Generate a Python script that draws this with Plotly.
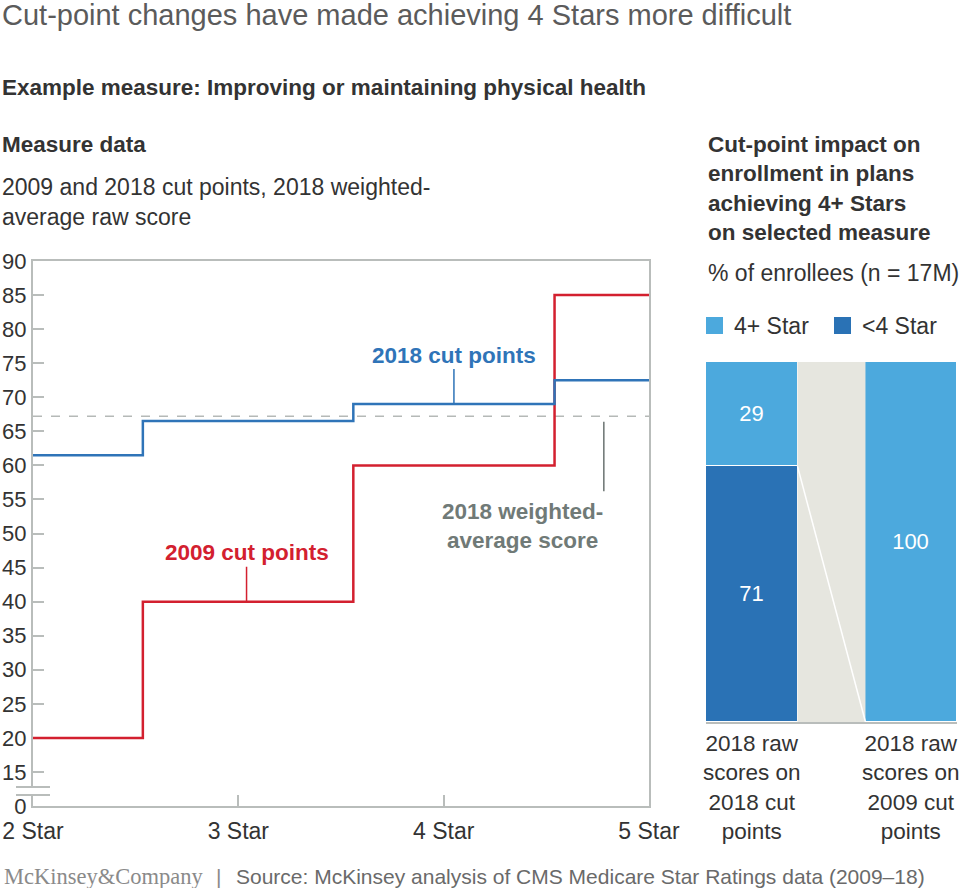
import plotly.graph_objects as go

# ---------------- data ----------------
star_labels = ["2 Star", "3 Star", "4 Star", "5 Star"]
star_vals = [2, 3, 4, 5]
step_x = [2, 2.535, 3.56, 4.54, 5]            # step boundaries (star scale)
cut2018 = [61.5, 66.5, 69, 72.5]              # 2018 cut points
cut2009 = [20, 40, 60, 85]                    # 2009 cut points
weighted_avg_2018 = 67.2                      # 2018 weighted-average score
y_ticks = [10, 15, 20, 25, 30, 35, 40, 45, 50, 55, 60, 65, 70, 75, 80, 85, 90]
y_tick_text = ["0"] + [str(v) for v in y_ticks[1:]]

bar_cats = ["2018 raw<br>scores on<br>2018 cut<br>points", "2018 raw<br>scores on<br>2009 cut<br>points"]
below4 = [71, 0]     # <4 Star
above4 = [29, 100]   # 4+ Star

FONT = "Liberation Sans, Arial, Helvetica, sans-serif"
DARK = "#333333"
GRAY_AX = "#b9bdbb"
BLUE18 = "#2f74b8"
RED09 = "#d3202f"
LIGHTB = "#4ca9dd"
DARKB = "#2a72b5"
BEIGE = "#e6e6df"
GRAYTXT = "#707a77"

def step_xy(xs, ys):
    px, py = [], []
    for i, v in enumerate(ys):
        px += [xs[i], xs[i + 1]]
        py += [v, v]
    return px, py

H = 888.0
W = 960.0
def py(p):
    return 1 - p / H
def pxf(p):
    return p / W

fig = go.Figure()

# dashed weighted average
fig.add_trace(go.Scatter(x=[star_vals[0], star_vals[-1]], y=[weighted_avg_2018] * 2, mode="lines",
                         line=dict(color="#b5b9b7", width=1.5, dash="dash"), hoverinfo="skip",
                         xaxis="x", yaxis="y", showlegend=False))
# 2009 step
sx, sy = step_xy(step_x, cut2009)
fig.add_trace(go.Scatter(x=sx, y=sy, mode="lines", line=dict(color=RED09, width=2.5),
                         xaxis="x", yaxis="y", showlegend=False))
# 2018 step
sx, sy = step_xy(step_x, cut2018)
fig.add_trace(go.Scatter(x=sx, y=sy, mode="lines", line=dict(color=BLUE18, width=2.5),
                         xaxis="x", yaxis="y", showlegend=False))

# ---- right panel ----
bw = 0.574
left_edge = 0 + bw / 2
right_edge = 1 - bw / 2
fig.add_trace(go.Scatter(x=[left_edge, right_edge, right_edge, left_edge, left_edge],
                         y=[0, 0, 100, 100, 0], fill="toself", fillcolor=BEIGE, mode="none",
                         xaxis="x2", yaxis="y2", showlegend=False, hoverinfo="skip"))
fig.add_trace(go.Bar(x=[0, 1], y=below4, width=bw, marker=dict(color=DARKB, line=dict(color="white", width=1)),
                     text=[str(v) if v else "" for v in below4], textposition="inside",
                     insidetextanchor="middle", textfont=dict(color="white", size=22, family=FONT),
                     xaxis="x2", yaxis="y2", name="<4 Star", showlegend=False))
fig.add_trace(go.Bar(x=[0, 1], y=above4, width=bw, marker=dict(color=LIGHTB, line=dict(color="white", width=1)),
                     text=[str(v) if v else "" for v in above4], textposition="inside",
                     insidetextanchor="middle", textfont=dict(color="white", size=22, family=FONT),
                     xaxis="x2", yaxis="y2", name="4+ Star", showlegend=False))
fig.add_trace(go.Scatter(x=[left_edge, right_edge], y=[below4[0], 0], mode="lines",
                         line=dict(color="white", width=1.5), xaxis="x2", yaxis="y2",
                         showlegend=False, hoverinfo="skip"))

annotations = []
def txt(x, y, text, size=23, bold=False, color=DARK, xanchor="left", align="left", family=FONT):
    if bold:
        text = "<b>" + text + "</b>"
    annotations.append(dict(x=pxf(x), y=py(y), xref="paper", yref="paper", text=text, showarrow=False,
                            xanchor=xanchor, yanchor="middle", align=align,
                            font=dict(size=size, color=color, family=family)))

txt(0, 15, "Cut-point changes have made achieving 4 Stars more difficult", size=29, color="#5b5b5b")
txt(0, 88, "Example measure: Improving or maintaining physical health", size=22.5, bold=True)
txt(0, 145, "Measure data", size=22.5, bold=True)
txt(0, 202, "2009 and 2018 cut points, 2018 weighted-<br>average raw score", size=23)
txt(706, 188, "Cut-point impact on<br>enrollment in plans<br>achieving 4+ Stars<br>on selected measure", size=22.5, bold=True)
txt(706, 273, "% of enrollees (n = 17M)", size=23)
txt(732, 326, "4+ Star", size=23)
txt(860, 326, "<4 Star", size=23)
txt(2, 876, "McKinsey&Company", size=22.5, color="#8a8a8a", family="Liberation Serif, Times New Roman, serif")
txt(214, 876, "|", size=21, color="#8a8a8a")
txt(234, 876, "Source: McKinsey analysis of CMS Medicare Star Ratings data (2009–18)", size=21, color="#6a6a6a")

# category labels under bars
for i, c in enumerate(bar_cats):
    annotations.append(dict(x=i, y=py(729), xref="x2", yref="paper", text=c, showarrow=False,
                            xanchor="center", yanchor="top", align="center",
                            font=dict(size=22.5, color=DARK, family=FONT)))

# series labels with leader lines
annotations.append(dict(x=4.05, y=cut2018[2], xref="x", yref="y", text="<b>2018 cut points</b>",
                        showarrow=True, arrowhead=0, arrowwidth=1.5, arrowcolor=BLUE18, ax=0, ay=-49,
                        font=dict(size=22.5, color=BLUE18, family=FONT)))
annotations.append(dict(x=3.04, y=cut2009[1], xref="x", yref="y", text="<b>2009 cut points</b>",
                        showarrow=True, arrowhead=0, arrowwidth=1.5, arrowcolor=RED09, ax=0, ay=-49,
                        font=dict(size=22.5, color=RED09, family=FONT)))
annotations.append(dict(x=pxf(522), y=py(526), xref="paper", yref="paper",
                        text="<b>2018 weighted-<br>average score</b>", showarrow=False, align="center",
                        xanchor="center", yanchor="middle", font=dict(size=22.5, color=GRAYTXT, family=FONT)))

shapes = []
# leader for weighted average
shapes.append(dict(type="line", xref="x", yref="y", x0=4.78, x1=4.78, y0=66.4, y1=56.2,
                   line=dict(color="#6b7371", width=1.5)))
# axis break
shapes.append(dict(type="rect", xref="paper", yref="paper", x0=pxf(28), x1=pxf(38), y0=py(795), y1=py(787),
                   fillcolor="white", line=dict(width=0)))
for yy in (787, 795):
    shapes.append(dict(type="line", xref="paper", yref="paper", x0=pxf(16), x1=pxf(50), y0=py(yy), y1=py(yy),
                       line=dict(color=GRAY_AX, width=2)))
# legend squares
shapes.append(dict(type="rect", xref="paper", yref="paper", x0=pxf(706), x1=pxf(723), y0=py(334), y1=py(317),
                   fillcolor=LIGHTB, line=dict(width=0)))
shapes.append(dict(type="rect", xref="paper", yref="paper", x0=pxf(834), x1=pxf(851), y0=py(334), y1=py(317),
                   fillcolor=DARKB, line=dict(width=0)))

fig.update_layout(
    width=960, height=888, margin=dict(l=0, r=0, t=0, b=0, pad=0, autoexpand=False),
    paper_bgcolor="white", plot_bgcolor="rgba(0,0,0,0)",
    font=dict(family=FONT, color=DARK),
    barmode="stack", bargap=0,
    xaxis=dict(domain=[pxf(33), pxf(649)], range=[2, 5], tickvals=star_vals, ticktext=star_labels,
               showline=True, mirror=True, linecolor=GRAY_AX, linewidth=2, ticks="inside", ticklen=11,
               tickwidth=2, tickcolor=GRAY_AX, showgrid=False, zeroline=False, automargin=False,
               ticklabelstandoff=3, layer="below traces",
               tickfont=dict(size=23, color=DARK)),
    yaxis=dict(domain=[py(806), py(261)], range=[10, 90], tickvals=y_ticks, ticktext=y_tick_text,
               showline=True, mirror=True, linecolor=GRAY_AX, linewidth=2, ticks="inside", ticklen=11,
               tickwidth=2, tickcolor=GRAY_AX, showgrid=False, zeroline=False, automargin=False,
               layer="below traces",
               tickfont=dict(size=22, color=DARK), anchor="x"),
    xaxis2=dict(domain=[pxf(706), pxf(957)], range=[-bw / 2, 1 + bw / 2], showticklabels=False,
                showline=True, linecolor=GRAY_AX, linewidth=2, ticks="", showgrid=False, zeroline=False,
                anchor="y2", automargin=False),
    yaxis2=dict(domain=[py(722), py(362)], range=[0, 100], visible=False, anchor="x2", automargin=False),
    annotations=annotations, shapes=shapes,
)

fig.write_html("out.html")
